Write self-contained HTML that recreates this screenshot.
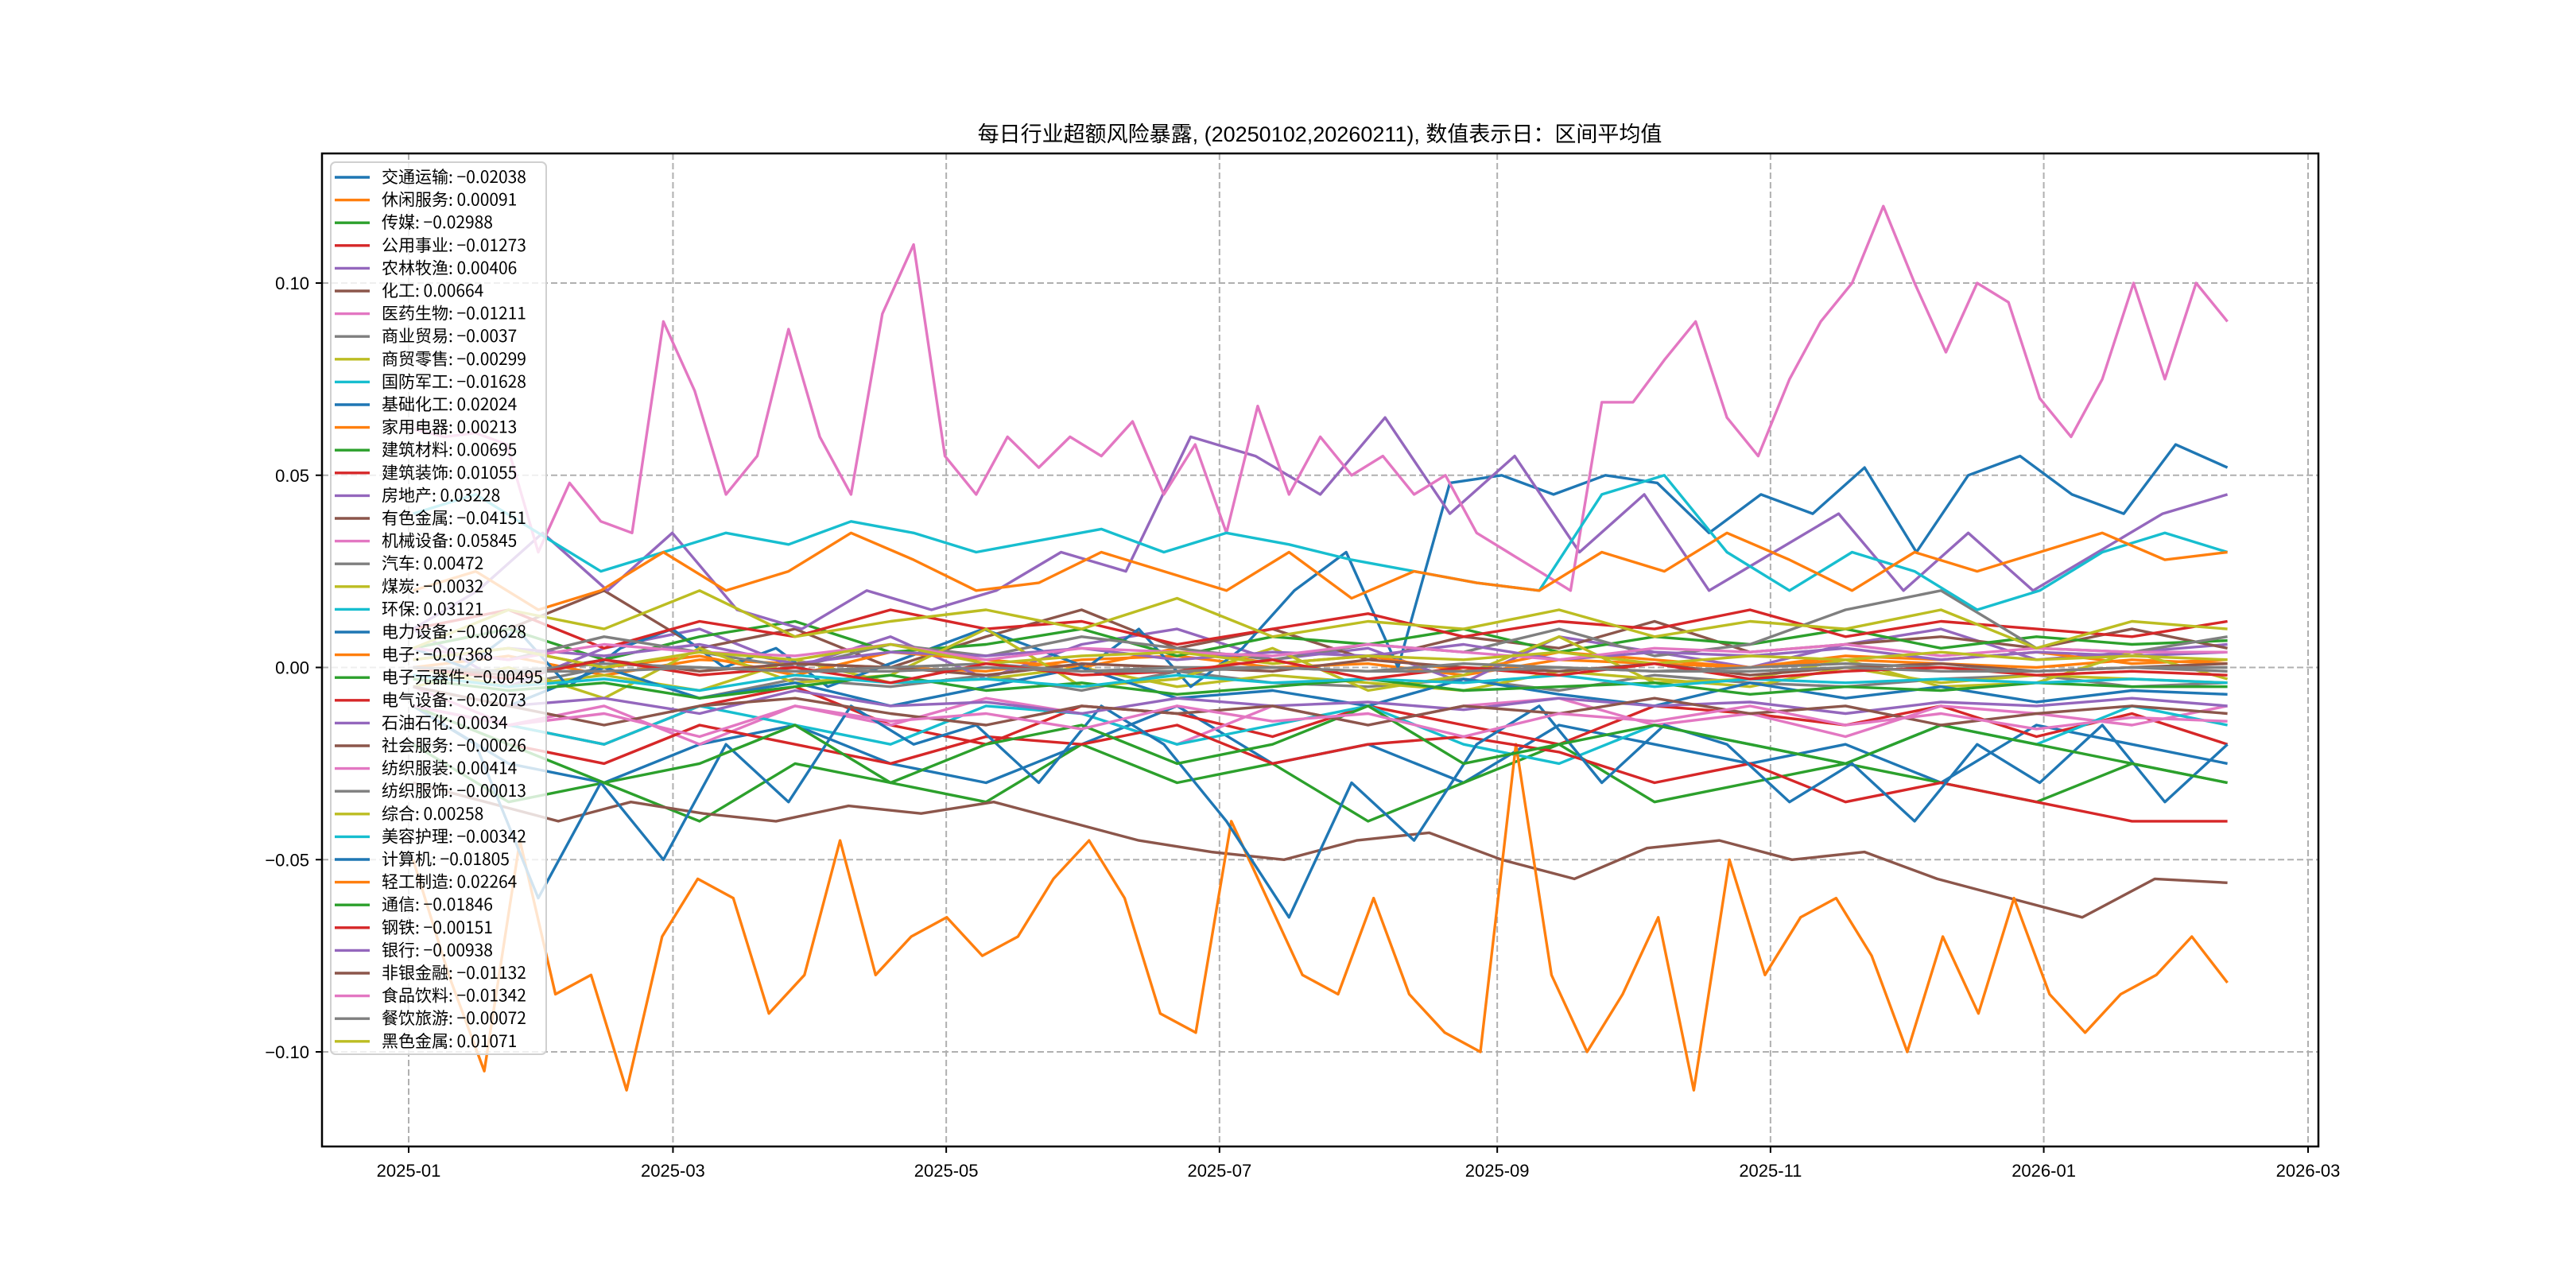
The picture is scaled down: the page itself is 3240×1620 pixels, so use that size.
<!DOCTYPE html>
<html><head><meta charset="utf-8">
<style>
html,body{margin:0;padding:0;background:#fff;}
svg{display:block;font-family:"Liberation Sans","Noto Sans CJK SC",sans-serif;}
</style></head>
<body>
<svg id="chart" width="3240" height="1620" viewBox="0 0 3240 1620" xmlns="http://www.w3.org/2000/svg">
<rect x="0" y="0" width="3240" height="1620" fill="#fff"/>
<text x="1660" y="178" text-anchor="middle" font-size="27" font-family="Liberation Sans, Noto Sans CJK SC, sans-serif">每日行业超额风险暴露, (20250102,20260211),  数值表示日：区间平均值</text>
<g id="grid"></g>
<g id="lines"></g>
<rect x="405" y="193" width="2511" height="1249" fill="none" stroke="#000" stroke-width="2.5"/>
<g id="axes"></g>
<g id="legend"></g>
</svg>
<script>
const names = ["交通运输","休闲服务","传媒","公用事业","农林牧渔","化工","医药生物","商业贸易","商贸零售","国防军工","基础化工","家用电器","建筑材料","建筑装饰","房地产","有色金属","机械设备","汽车","煤炭","环保","电力设备","电子","电子元器件","电气设备","石油石化","社会服务","纺织服装","纺织服饰","综合","美容护理","计算机","轻工制造","通信","钢铁","银行","非银金融","食品饮料","餐饮旅游","黑色金属"];
const means = ["-0.02038","0.00091","-0.02988","-0.01273","0.00406","0.00664","-0.01211","-0.0037","-0.00299","-0.01628","0.02024","0.00213","0.00695","0.01055","0.03228","-0.04151","0.05845","0.00472","-0.0032","0.03121","-0.00628","-0.07368","-0.00495","-0.02073","0.0034","-0.00026","0.00414","-0.00013","0.00258","-0.00342","-0.01805","0.02264","-0.01846","-0.00151","-0.00938","-0.01132","-0.01342","-0.00072","0.01071"];
const yTicks = [-0.10,-0.05,0.00,0.05,0.10];
const yTickLabels = ["−0.10","−0.05","0.00","0.05","0.10"];
const xTickLabels = ["2025-01","2025-03","2025-05","2025-07","2025-09","2025-11","2026-01","2026-03"];
const xTickDates = ["2025-01-01","2025-03-01","2025-05-01","2025-07-01","2025-09-01","2025-11-01","2026-01-01","2026-03-01"];
const startDate = "2025-01-02";
const endDate = "2026-02-11";

const s0 = [-0.01,-0.025,-0.03,-0.02,-0.015,-0.025,-0.03,-0.02,-0.01,-0.025,-0.02,-0.03,-0.015,-0.02,-0.025,-0.02,-0.03,-0.015,-0.02,-0.025];
const s1 = [0,0.003,-0.002,0.002,0.001,0,-0.001,0.002,0.003,0,0.001,-0.002,0.002,0.001,0,0.002,0.001,0,0.002,0.001];
const s2 = [-0.02,-0.035,-0.03,-0.04,-0.025,-0.03,-0.035,-0.02,-0.03,-0.025,-0.04,-0.03,-0.02,-0.035,-0.03,-0.025,-0.03,-0.035,-0.025,-0.03];
const s3 = [-0.01,-0.015,-0.02,-0.01,-0.005,-0.015,-0.02,-0.01,-0.012,-0.018,-0.01,-0.015,-0.02,-0.01,-0.012,-0.015,-0.01,-0.018,-0.012,-0.02];
const s4 = [0.01,-0.005,0.005,0.01,0,0.008,-0.003,0.006,0.01,0.002,0.005,-0.004,0.008,0.004,0,0.006,0.01,0.002,0.004,0.006];
const s5 = [0.005,0.01,0.02,0.005,0.01,0,0.008,0.015,0.005,0.01,0.002,0.008,0.005,0.012,0.004,0.006,0.008,0.005,0.01,0.005];
const s6 = [-0.005,-0.015,-0.01,-0.02,-0.01,-0.015,-0.008,-0.012,-0.02,-0.01,-0.015,-0.01,-0.008,-0.015,-0.012,-0.018,-0.01,-0.012,-0.015,-0.01];
const s7 = [-0.002,-0.005,0,-0.008,-0.003,-0.005,-0.002,-0.006,-0.001,-0.004,-0.005,-0.003,-0.006,-0.002,-0.004,-0.005,-0.003,-0.002,-0.005,-0.004];
const s8 = [0,-0.005,-0.002,-0.006,0.002,-0.004,-0.003,0,-0.005,-0.002,-0.004,-0.006,-0.001,-0.003,-0.005,0,-0.004,-0.002,-0.003,-0.004];
const s9 = [-0.01,-0.015,-0.02,-0.01,-0.015,-0.02,-0.01,-0.012,-0.02,-0.015,-0.01,-0.02,-0.025,-0.015,-0.02,-0.025,-0.015,-0.02,-0.01,-0.015];
const s10 = [0.005,0.0,0.01,-0.005,0.005,0.01,0.0,0.005,-0.005,0.0,0.005,0.01,0.005,0.0,0.01,-0.005,0.005,0.02,0.03,0.0,0.048,0.05,0.045,0.05,0.048,0.035,0.045,0.04,0.052,0.03,0.05,0.055,0.045,0.04,0.058,0.052];
const s11 = [0.002,0.005,0,0.003,-0.002,0.004,0.002,0,0.005,0.001,0.003,-0.001,0.004,0.002,0,0.003,0.002,0.004,0.001,0.002];
const s12 = [0.005,0.01,0.002,0.008,0.012,0.004,0.006,0.01,0.003,0.008,0.006,0.01,0.004,0.008,0.006,0.01,0.005,0.008,0.006,0.007];
const s13 = [0.01,0.015,0.005,0.012,0.008,0.015,0.01,0.012,0.006,0.01,0.014,0.008,0.012,0.01,0.015,0.008,0.012,0.01,0.008,0.012];
const s14 = [0.01,0.02,0.035,0.02,0.035,0.015,0.01,0.02,0.015,0.02,0.03,0.025,0.06,0.055,0.045,0.065,0.04,0.055,0.03,0.045,0.02,0.03,0.04,0.02,0.035,0.02,0.03,0.04,0.045];
const s15 = [-0.03,-0.035,-0.04,-0.035,-0.038,-0.04,-0.036,-0.038,-0.035,-0.04,-0.045,-0.048,-0.05,-0.045,-0.043,-0.05,-0.055,-0.047,-0.045,-0.05,-0.048,-0.055,-0.06,-0.065,-0.055,-0.056];
const s16 = [0.062,0.060,0.061,0.058,0.030,0.048,0.038,0.035,0.090,0.072,0.045,0.055,0.088,0.060,0.045,0.092,0.110,0.055,0.045,0.060,0.052,0.060,0.055,0.064,0.045,0.058,0.035,0.068,0.045,0.060,0.050,0.055,0.045,0.050,0.035,0.030,0.025,0.020,0.069,0.069,0.080,0.090,0.065,0.055,0.075,0.090,0.100,0.120,0.100,0.082,0.100,0.095,0.070,0.060,0.075,0.100,0.075,0.100,0.090];
const s17 = [0.005,0.002,0.008,0.004,0,0.006,0.003,0.008,0.005,0.002,0.006,0.004,0.01,0.003,0.006,0.015,0.02,0.005,0.004,0.008];
const s18 = [-0.005,0,-0.008,0.005,-0.004,-0.002,0.01,-0.005,-0.003,0.005,-0.006,-0.002,0.008,-0.004,-0.003,0.002,-0.005,-0.004,0.004,-0.003];
const s19 = [0.04,0.045,0.035,0.025,0.03,0.035,0.032,0.038,0.035,0.03,0.033,0.036,0.03,0.035,0.032,0.028,0.025,0.022,0.02,0.045,0.05,0.03,0.02,0.03,0.025,0.015,0.02,0.03,0.035,0.03];
const s20 = [-0.005,-0.01,0,-0.008,-0.004,-0.01,-0.005,0,-0.008,-0.006,-0.01,-0.003,-0.007,-0.01,-0.004,-0.008,-0.005,-0.009,-0.006,-0.007];
const s21 = [-0.05,-0.08,-0.105,-0.045,-0.085,-0.08,-0.11,-0.07,-0.055,-0.06,-0.09,-0.08,-0.045,-0.08,-0.07,-0.065,-0.075,-0.07,-0.055,-0.045,-0.06,-0.09,-0.095,-0.04,-0.06,-0.08,-0.085,-0.06,-0.085,-0.095,-0.1,-0.02,-0.08,-0.1,-0.085,-0.065,-0.11,-0.05,-0.08,-0.065,-0.06,-0.075,-0.1,-0.07,-0.09,-0.06,-0.085,-0.095,-0.085,-0.08,-0.07,-0.082];
const s22 = [-0.003,-0.006,-0.004,-0.008,-0.005,-0.002,-0.006,-0.004,-0.007,-0.005,-0.003,-0.006,-0.005,-0.004,-0.007,-0.005,-0.006,-0.004,-0.005,-0.005];
const s23 = [-0.01,-0.02,-0.025,-0.015,-0.02,-0.025,-0.018,-0.02,-0.015,-0.025,-0.02,-0.018,-0.022,-0.03,-0.025,-0.035,-0.03,-0.035,-0.04,-0.04];
const s24 = [0.002,0.005,0.003,0.006,0.001,0.004,0.003,0.005,0.002,0.004,0.003,0.006,0.002,0.004,0.003,0.005,0.002,0.004,0.003,0.004];
const s25 = [0,-0.002,0.002,-0.001,0.001,0,-0.002,0.001,0,-0.001,0.002,0,-0.001,0.001,-0.002,0,0.001,-0.001,0,0.001];
const s26 = [0.005,0.002,0.006,0.004,0.003,0.006,0.002,0.005,0.004,0.003,0.006,0.004,0.002,0.005,0.004,0.006,0.003,0.005,0.004,0.004];
const s27 = [0,-0.001,0.001,0,-0.001,0,0.001,-0.001,0,0,-0.001,0.001,0,-0.001,0,0.001,0,-0.001,0,0];
const s28 = [0.002,0.005,0,0.004,0.002,0.006,0.001,0.003,0.004,0.001,0.003,0.002,0.004,0.001,0.003,0.002,0.004,0.002,0.003,0.002];
const s29 = [-0.002,-0.005,-0.003,-0.006,-0.002,-0.004,-0.003,-0.005,-0.002,-0.004,-0.003,-0.004,-0.002,-0.005,-0.003,-0.004,-0.003,-0.004,-0.003,-0.004];
const s30 = [-0.01,-0.02,-0.06,-0.03,-0.05,-0.02,-0.035,-0.01,-0.02,-0.015,-0.03,-0.01,-0.02,-0.04,-0.065,-0.03,-0.045,-0.02,-0.01,-0.03,-0.015,-0.02,-0.035,-0.025,-0.04,-0.02,-0.03,-0.015,-0.035,-0.02];
const s31 = [0.02,0.025,0.015,0.02,0.03,0.02,0.025,0.035,0.028,0.02,0.022,0.03,0.025,0.02,0.03,0.018,0.025,0.022,0.02,0.03,0.025,0.035,0.028,0.02,0.03,0.025,0.03,0.035,0.028,0.03];
const s32 = [-0.01,-0.02,-0.03,-0.025,-0.015,-0.03,-0.02,-0.015,-0.025,-0.02,-0.01,-0.025,-0.02,-0.015,-0.02,-0.025,-0.015,-0.02,-0.025,-0.03];
const s33 = [0,-0.003,0.002,-0.002,0,-0.004,0.001,-0.002,-0.001,0.002,-0.003,0,-0.002,0.001,-0.003,-0.001,0,-0.002,-0.001,-0.002];
const s34 = [-0.005,-0.01,-0.008,-0.012,-0.006,-0.01,-0.009,-0.012,-0.008,-0.01,-0.009,-0.011,-0.008,-0.01,-0.009,-0.012,-0.009,-0.01,-0.008,-0.01];
const s35 = [-0.005,-0.01,-0.015,-0.01,-0.008,-0.012,-0.015,-0.01,-0.012,-0.01,-0.015,-0.01,-0.012,-0.008,-0.012,-0.01,-0.015,-0.012,-0.01,-0.012];
const s36 = [-0.01,-0.015,-0.012,-0.018,-0.01,-0.014,-0.012,-0.016,-0.01,-0.014,-0.012,-0.018,-0.012,-0.014,-0.01,-0.015,-0.012,-0.016,-0.013,-0.014];
const s37 = [0,-0.001,-0.001,0,-0.001,-0.001,0,-0.001,-0.001,0,-0.001,-0.001,0,-0.001,-0.001,0,-0.001,-0.001,0,-0.001];
const s38 = [0.005,0.015,0.01,0.02,0.008,0.012,0.015,0.01,0.018,0.008,0.012,0.01,0.015,0.008,0.012,0.01,0.015,0.005,0.012,0.01];
const series = [s0,s1,s2,s3,s4,s5,s6,s7,s8,s9,s10,s11,s12,s13,s14,s15,s16,s17,s18,s19,s20,s21,s22,s23,s24,s25,s26,s27,s28,s29,s30,s31,s32,s33,s34,s35,s36,s37,s38];

const palette = ["#1f77b4","#ff7f0e","#2ca02c","#d62728","#9467bd","#8c564b","#e377c2","#7f7f7f","#bcbd22","#17becf"];
const NS = "http://www.w3.org/2000/svg";
const L = 405, R = 2916, T = 193, B = 1442;
const x0Date = Date.parse("2025-01-01"), x1Date = Date.parse("2026-03-01");
const X0 = 514, X1 = 2903;
function xScale(ms){ return X0 + (ms - x0Date) / (x1Date - x0Date) * (X1 - X0); }
function yScale(v){ return 839.5 - v * 4835; }
function mk(tag, attrs, parent){ const e = document.createElementNS(NS, tag); for (const k in attrs) e.setAttribute(k, attrs[k]); parent.appendChild(e); return e; }

const grid = document.getElementById('grid');
const axes = document.getElementById('axes');
xTickDates.forEach((d, i) => {
  const x = xScale(Date.parse(d));
  const g = mk('line', {x1:x, x2:x, y1:T, y2:B, stroke:'#b0b0b0', 'stroke-width':2, 'stroke-dasharray':'8,4'}, grid);
  
  
  const t = mk('line', {x1:x, x2:x, y1:B, y2:B+8, stroke:'#000', 'stroke-width':2}, axes);
  
  
  const lb = mk('text', {x:x, y:B+38, 'text-anchor':'middle', 'font-size':22}, axes);
  lb.textContent = xTickLabels[i];
  
  
});
yTicks.forEach((v, i) => {
  const y = yScale(v);
  const g = mk('line', {x1:L, x2:R, y1:y, y2:y, stroke:'#b0b0b0', 'stroke-width':2, 'stroke-dasharray':'8,4'}, grid);
  
  
  const t = mk('line', {x1:L-8, x2:L, y1:y, y2:y, stroke:'#000', 'stroke-width':2}, axes);
  
  
  const lb = mk('text', {x:L-16, y:y+8, 'text-anchor':'end', 'font-size':22}, axes);
  lb.textContent = yTickLabels[i];
  
  
});

const linesG = document.getElementById('lines');
const sMs = Date.parse(startDate), eMs = Date.parse(endDate);
series.forEach((vals, si) => {
  const n = vals.length;
  const pts = vals.map((v, i) => xScale(sMs + (eMs - sMs) * i / (n - 1)).toFixed(1) + ',' + yScale(v).toFixed(1)).join(' ');
  const p = mk('polyline', {points:pts, fill:'none', stroke:palette[si % 10], 'stroke-width':3.4, 'stroke-linejoin':'round'}, linesG);
  
  
});

const leg = document.getElementById('legend');
const box = mk('rect', {x:416, y:204, width:271, height:1122, rx:6, fill:'#fff', 'fill-opacity':0.8, stroke:'#d0d0d0', 'stroke-width':2}, leg);


names.forEach((nm, i) => {
  const y = 223 + i * 28.6;
  const ln = mk('line', {x1:421, x2:465, y1:y, y2:y, stroke:palette[i % 10], 'stroke-width':3.4}, leg);
  
  
  const tx = mk('text', {x:480, y:y+7, 'font-size':21, 'font-family':'Noto Sans CJK SC, Liberation Sans, sans-serif'}, leg);
  tx.textContent = nm + ': ' + means[i].replace('-', '−');
  
  
});
</script>
</body></html>
